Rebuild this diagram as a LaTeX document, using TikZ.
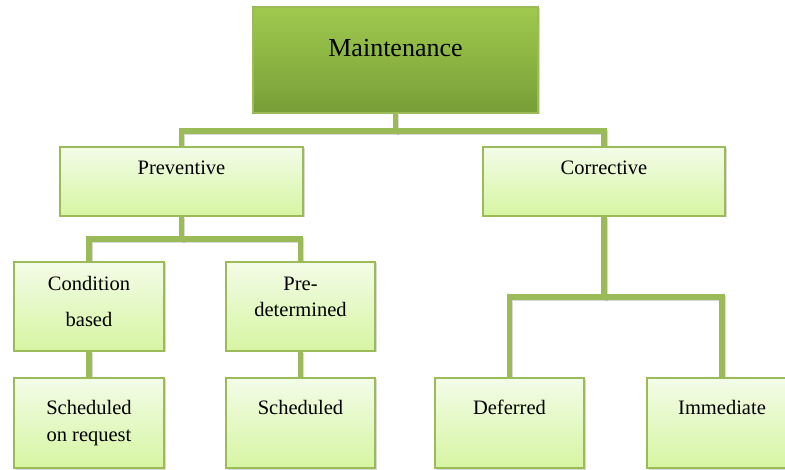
\documentclass[tikz,border=0pt]{standalone}
\usepackage{fontspec}
\setmainfont{Liberation Serif}
\usetikzlibrary{shadows,backgrounds}

\definecolor{olive}{HTML}{9BBB59}
\definecolor{boxtop}{HTML}{F3FCE8}
\definecolor{boxbot}{HTML}{D6F5A2}
\definecolor{roottop}{HTML}{9FCA4E}
\definecolor{rootbot}{HTML}{779E37}

\tikzset{
  boxbase/.style={rectangle, draw=olive, line width=2pt, inner sep=0pt,
    drop shadow={opacity=0.3, shadow xshift=1.5pt, shadow yshift=-1.5pt}},
  leaf/.style={boxbase, top color=boxtop, bottom color=boxbot},
  rootbox/.style={boxbase, top color=roottop, bottom color=rootbot},
  label/.style={anchor=base, inner sep=0pt, text=black, font=\fontsize{20.5}{24}\selectfont},
  rootlabel/.style={anchor=base, inner sep=0pt, text=black, font=\fontsize{26}{31}\selectfont},
  conn/.style={draw=olive, line width=5.5pt, line join=miter,
    preaction={draw=black!60, opacity=0.25, line width=5.5pt, transform canvas={shift={(1pt,-1.5pt)}}}}
}

\begin{document}
\begin{tikzpicture}[x=1pt, y=-1pt]
  \useasboundingbox (0,0) rectangle (785,470);
  \clip (0,0) rectangle (785,470);

  % boxes
  \node[rootbox, minimum width=285pt, minimum height=106pt] (maint) at (395.5,60) {};
  \node[leaf, minimum width=243pt, minimum height=69pt] (prev) at (181.5,181.5) {};
  \node[leaf, minimum width=242pt, minimum height=69pt] (corr) at (604,181.5) {};
  \node[leaf, minimum width=150pt, minimum height=89pt] (cond) at (89,306.5) {};
  \node[leaf, minimum width=149pt, minimum height=89pt] (pred) at (300.5,306.5) {};
  \node[leaf, minimum width=150pt, minimum height=90pt] (sreq) at (89,423) {};
  \node[leaf, minimum width=149pt, minimum height=90pt] (sched) at (300.5,423) {};
  \node[leaf, minimum width=149pt, minimum height=90pt] (defer) at (509.5,423) {};
  \node[leaf, minimum width=150pt, minimum height=90pt] (immed) at (722,423) {};

  % labels
  \node[rootlabel] (tmaint) at (395.5,57) {Maintenance};
  \node[label] (tprev) at (181.5,175) {Preventive};
  \node[label] (tcorr) at (604,175) {Corrective};
  \node[label] (tcond1) at (89,291) {Condition};
  \node[label] (tcond2) at (89,327) {based};
  \node[label] (tpred1) at (300.5,291) {Pre-};
  \node[label] (tpred2) at (300.5,317) {determined};
  \node[label] (tsreq1) at (89,415) {Scheduled};
  \node[label] (tsreq2) at (89,442) {on request};
  \node[label] (tsched) at (300.5,415) {Scheduled};
  \node[label] (tdefer) at (509.5,415) {Deferred};
  \node[label] (timmed) at (722,415) {Immediate};

  % connectors, kept beneath the boxes
  \begin{scope}[on background layer]
    \coordinate (j1) at (395.5,131);
    \coordinate (j2) at (181.5,239);
    \coordinate (j3) at (604,297);
    \draw[conn] (maint.south) -- (j1) -| (prev.north);
    \draw[conn] (j1) -| (corr.north);
    \draw[conn] (prev.south) -- (j2) -| (cond.north);
    \draw[conn] (j2) -| (pred.north);
    \draw[conn] (cond.south) -- (sreq.north);
    \draw[conn] (pred.south) -- (sched.north);
    \draw[conn] (corr.south) -- (j3) -| (defer.north);
    \draw[conn] (j3) -| (immed.north);
  \end{scope}
\end{tikzpicture}
\end{document}
